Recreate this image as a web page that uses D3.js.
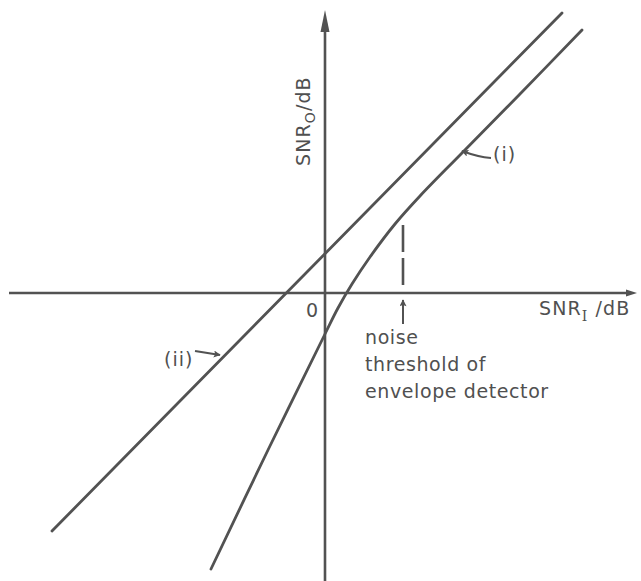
<!DOCTYPE html>
<html>
<head>
<meta charset="utf-8">
<script src="https://cdn.jsdelivr.net/npm/d3@7"></script>
<style>
  html, body { margin: 0; padding: 0; background: #ffffff; }
  svg { display: block; }
  text { font-family: "DejaVu Sans", sans-serif; fill: #505050; }
</style>
</head>
<body>
<script>
// Output SNR against input SNR (both in dB) for two detectors.
// Curve (i): envelope detector, steep below its noise threshold, then parallel to (ii).
const curveI_snrIn  = [-11.4, -5.7, 0.0, 1.3, 2.7, 4.5, 7.0, 9.5, 13.7, 19.5, 25.7];
const curveI_snrOut = [-27.6, -15.7, -4.1, -1.5, 0.9, 3.6, 6.9, 9.7, 14.0, 19.9, 26.3];
// Line (ii): coherent detector, straight line.
const lineII_snrIn  = [-27.3, 23.7];
const lineII_snrOut = [-23.8, 28.0];
// Input SNR at the envelope detector's noise threshold.
const thresholdSnrIn = 7.8;
const noteLines = ["noise", "threshold of", "envelope detector"];

const W = 641, H = 581;
const ink = "#525252";

const svg = d3.select("body").append("svg")
  .attr("width", W).attr("height", H);

const x = d3.scaleLinear().domain([-10, 10]).range([225, 425]);
const y = d3.scaleLinear().domain([-10, 10]).range([393, 193]);

const defs = svg.append("defs");
defs.append("marker")
  .attr("id", "head")
  .attr("viewBox", "0 0 10 10")
  .attr("refX", 9).attr("refY", 5)
  .attr("markerWidth", 13).attr("markerHeight", 7)
  .attr("markerUnits", "userSpaceOnUse")
  .attr("orient", "auto")
  .append("path").attr("d", "M0,0 L10,5 L0,10 L2,5 Z").attr("fill", ink);

// Axes through the origin
const x0 = x(0), y0 = y(0);
svg.append("line")
  .attr("x1", 9).attr("y1", y0).attr("x2", 628).attr("y2", y0)
  .attr("stroke", ink).attr("stroke-width", 2.6);
svg.append("path")
  .attr("d", `M637,${y0} L626,${y0 - 3.5} L626,${y0 + 3.5} Z`)
  .attr("fill", ink);
svg.append("line")
  .attr("x1", x0).attr("y1", 28).attr("x2", x0).attr("y2", H)
  .attr("stroke", ink).attr("stroke-width", 2.6);
svg.append("path")
  .attr("d", `M${x0},10 L${x0 - 4.5},32 L${x0 + 4.5},32 Z`)
  .attr("fill", ink);

// Line (ii)
const lineGen = d3.line().x(d => x(d[0])).y(d => y(d[1]));
svg.append("path")
  .datum(d3.zip(lineII_snrIn, lineII_snrOut))
  .attr("d", lineGen)
  .attr("fill", "none").attr("stroke", ink)
  .attr("stroke-width", 2.8).attr("stroke-linecap", "round");

// Curve (i)
const curveGen = d3.line().x(d => x(d[0])).y(d => y(d[1])).curve(d3.curveCatmullRom);
svg.append("path")
  .datum(d3.zip(curveI_snrIn, curveI_snrOut))
  .attr("d", curveGen)
  .attr("fill", "none").attr("stroke", ink)
  .attr("stroke-width", 2.8).attr("stroke-linecap", "round");

// Noise threshold marker: dashed line above the axis, arrow below
const xt = x(thresholdSnrIn);
svg.append("line")
  .attr("x1", xt).attr("y1", 225).attr("x2", xt).attr("y2", 285)
  .attr("stroke", ink).attr("stroke-width", 2.6)
  .attr("stroke-dasharray", "27 6");
svg.append("line")
  .attr("x1", xt).attr("y1", 324).attr("x2", xt).attr("y2", 300)
  .attr("stroke", ink).attr("stroke-width", 2)
  .attr("marker-end", "url(#head)");

const note = svg.append("text")
  .attr("x", 365).attr("y", 344)
  .attr("font-size", 19).attr("letter-spacing", 0.6);
noteLines.forEach((t, i) => {
  note.append("tspan").attr("x", 365).attr("y", 344 + i * 27).text(t);
});

// Origin label
svg.append("text")
  .attr("x", x0 - 13).attr("y", y0 + 24)
  .attr("font-size", 19).attr("text-anchor", "middle")
  .text("0");

// Horizontal axis label
const xl = svg.append("text")
  .attr("x", 539).attr("y", 315).attr("font-size", 19).attr("letter-spacing", 1.1);
xl.append("tspan").text("SNR");
xl.append("tspan").attr("font-size", 14).attr("font-family", "DejaVu Serif")
  .attr("dy", 6).text("I");
xl.append("tspan").attr("dy", -6).text(" /dB");

// Vertical axis label
const yl = svg.append("text")
  .attr("transform", "translate(310,166) rotate(-90)")
  .attr("font-size", 19).attr("letter-spacing", 1.1);
yl.append("tspan").text("SNR");
yl.append("tspan").attr("font-size", 14).attr("dy", 5).text("O");
yl.append("tspan").attr("dy", -5).text("/dB");

// Series labels with pointer arrows
svg.append("text")
  .attr("x", 493).attr("y", 161).attr("font-size", 19).attr("letter-spacing", 1).text("(i)");
svg.append("path")
  .attr("d", "M491,158 Q478,157 462,151")
  .attr("fill", "none").attr("stroke", ink).attr("stroke-width", 2)
  .attr("marker-end", "url(#head)");

svg.append("text")
  .attr("x", 164).attr("y", 366).attr("font-size", 19).attr("letter-spacing", 1).text("(ii)");
svg.append("line")
  .attr("x1", 195).attr("y1", 351).attr("x2", 220).attr("y2", 355)
  .attr("stroke", ink).attr("stroke-width", 2)
  .attr("marker-end", "url(#head)");
</script>
</body>
</html>
